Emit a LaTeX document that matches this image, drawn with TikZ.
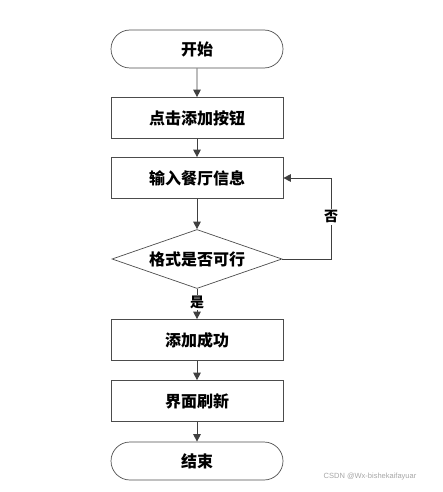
\documentclass[tikz,border=0pt]{standalone}
\usepackage{fontspec}
\newfontfamily\cjk{Noto Sans CJK SC}
\newfontfamily\marksans{Liberation Sans}
\usetikzlibrary{shapes.geometric,shapes.misc,arrows.meta}

\tikzset{
  flowline/.style={draw=black!75, line width=0.9pt, -{Triangle[width=7.5pt,length=7.5pt]}},
  stepbox/.style={draw=black!70, line width=0.7pt, minimum width=172pt, minimum height=41pt,
                  inner sep=0pt, font=\cjk\bfseries\fontsize{16}{18}\selectfont},
  terminal/.style={stepbox, rounded rectangle, minimum height=38pt},
  choice/.style={stepbox, diamond, aspect=3, minimum width=170pt, minimum height=59pt},
  branchtag/.style={fill=white, inner sep=1.5pt, font=\cjk\bfseries\fontsize{14}{16}\selectfont}
}

\begin{document}
\begin{tikzpicture}[x=1pt, y=-1pt]
    \useasboundingbox (0, 0) rectangle (442, 492);

    % Start / end
    \node [terminal] (start) at (197, 49) {开始};
    \node [terminal] (stop)  at (197, 461) {结束};

    % Steps
    \node [stepbox] (click)   at (197, 118) {点击添加按钮};
    \node [stepbox] (inputs)  at (197, 178) {输入餐厅信息};
    \node [choice]  (check)   at (197, 259) {格式是否可行};
    \node [stepbox] (added)   at (197, 340) {添加成功};
    \node [stepbox] (refresh) at (197, 401) {界面刷新};

    % Loop corner
    \coordinate (loopturn) at (331, 259);

    % Edges
    \draw [flowline] (start) -- (click);
    \draw [flowline] (click) -- (inputs);
    \draw [flowline] (inputs) -- (check);
    \draw [flowline] (check) -- node [branchtag, pos=0.45] {是} (added);
    \draw [flowline] (added) -- (refresh);
    \draw [flowline] (refresh) -- (stop);

    % Back to input
    \draw [flowline] (check.east) -- (loopturn)
          -- node [branchtag, pos=0.52] {否} (loopturn |- inputs) -- (inputs.east);

    % Watermark
    \node [text=black!35, font=\marksans\fontsize{7.5}{9}\selectfont] (mark) at (370, 477)
          {CSDN @Wx-bishekaifayuar};
\end{tikzpicture}
\end{document}
